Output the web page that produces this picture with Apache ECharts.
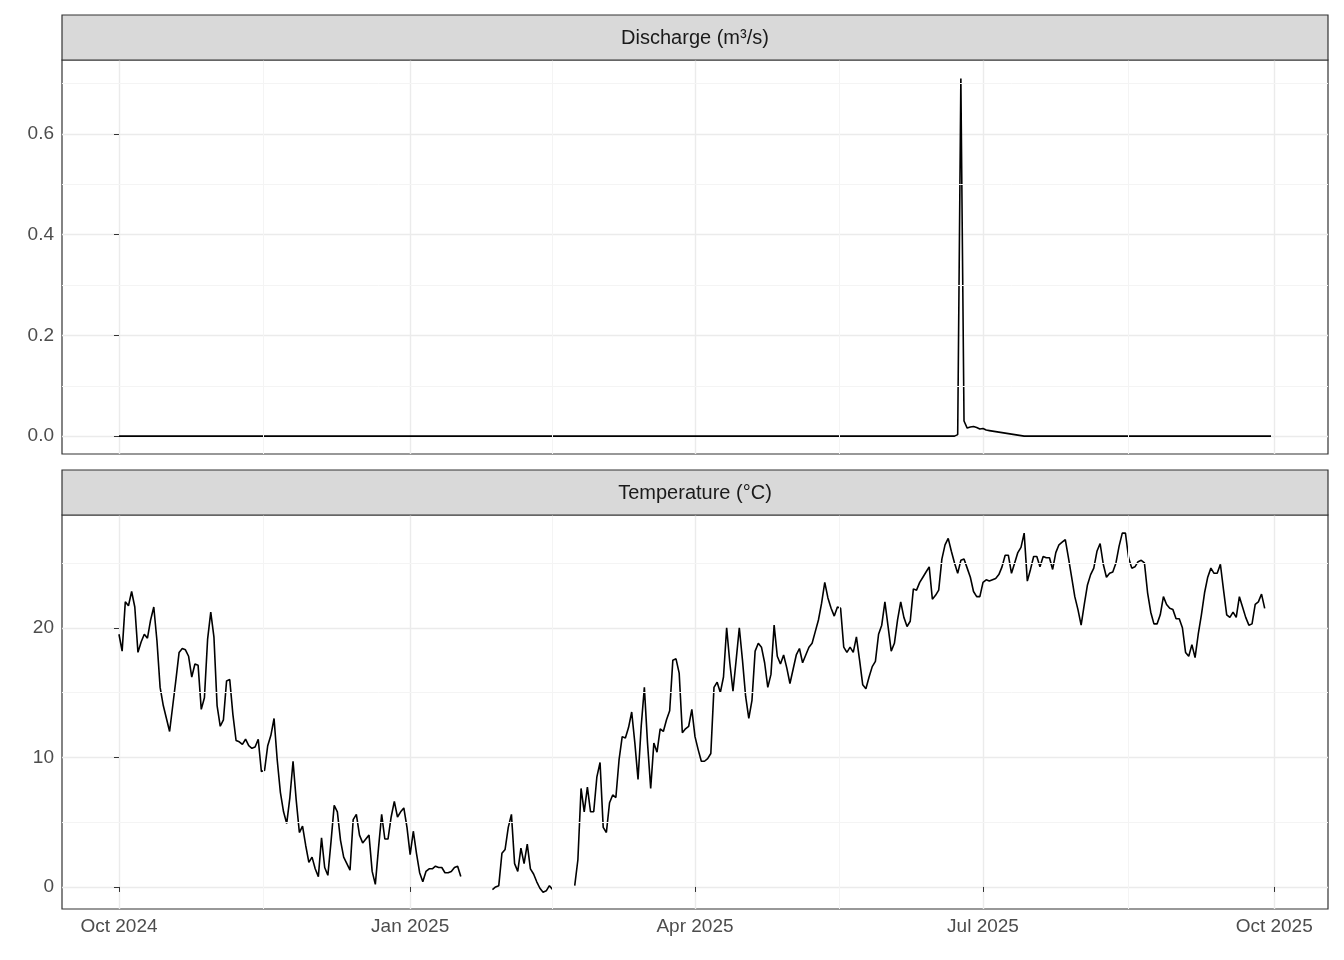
<!DOCTYPE html>
<html>
<head>
<meta charset="utf-8">
<script src="https://cdn.jsdelivr.net/npm/echarts@6/dist/echarts.min.js"></script>
<style>html,body{margin:0;padding:0;background:#fff}#main{width:1344px;height:960px}</style>
</head>
<body>
<div id="main"></div>
<script>
// days since 2024-10-01
const tickDays = [0, 92, 182, 273, 365]
const tickLabels = ['Oct 2024', 'Jan 2025', 'Apr 2025', 'Jul 2025', 'Oct 2025']
const minorDays = [45.5, 137, 227.5, 319]

// temperature, daily, null = missing
const tempSeg1 = [19.5,18.2,22,21.7,22.8,21.6,18.1,18.9,19.5,19.2,20.6,21.6,19,15.4,14,13,12,14,16,18.1,18.4,18.3,17.8,16.2,17.2,17.1,13.7,14.6,19.1,21.2,19.3,14,12.4,12.9,15.9,16,13.3,11.3,11.2,11,11.4,10.9,10.7,10.8,11.4,8.9,9.0,10.9,11.7,13.0,9.8,7.3,5.8,4.9,6.9,9.7,6.7,4.2,4.7,3.2,1.9,2.3,1.4,0.8,
  3.8,1.5,0.9,3.5,6.3,5.8,3.6,2.3,1.8,1.3,5.2,5.6,4.0,3.4,3.7,4.0,1.2,0.2,3.0,5.6,3.7,3.7,5.4,6.6,5.4,5.8,6.1,4.6,2.5,4.3,2.6,1.1,0.4,1.2,1.4,1.4,1.6,1.5,1.5,1.1,1.1,1.2,1.5,1.6,0.8]
const tempGap1 = 9
const tempSeg2 = [-0.2,0.0,0.1,2.6,2.9,4.6,5.6,1.8,1.2,3.0,1.8,3.3,1.4,1.0,0.4,-0.1,-0.4,-0.3,0.1,-0.2]
const tempGap2 = 6
const tempSeg3 = [0.1,2.1,7.6,5.8,7.7,5.8,5.8,8.5,9.6,4.6,4.2,6.5,7.1,6.9,9.8,11.6,11.5,12.3,13.5,11.1,8.3,12.4,15.4,11.1,7.6,11.1,10.4,12.2,12.0,12.9,13.6,17.5,17.6,16.5,11.9,12.2,12.4,13.7,11.6,10.6,9.7,9.7,9.9,10.3,15.4,15.8,15.0,16.2,20.0,17.3,15.1,17.5,20.0,17.5,14.7,13.0,14.4,18.2,18.8,18.5,17.3,15.4,16.4,20.2,17.8,17.2,17.9,16.9,15.7,16.8,
  17.9,18.4,17.3,17.9,18.5,18.8,19.7,20.6,21.9,23.5,22.3,21.5,20.9,21.6,21.5,18.5,18.1,18.5,18.1,19.3,17.5,15.6,15.3,16.2,17.0,17.4,19.5,20.2,22.0,20.1,18.2,18.8,20.6,22.0,20.8,20.1,20.5,23.0,22.9,23.5,23.9,24.3,24.7,22.2,22.5,22.9,25.3,26.4,26.9,25.9,25.0,24.2,25.2,25.3,24.6,23.9,22.8,22.4,22.4,23.5,23.7,23.6,23.7,23.8,24.1,24.7,25.6,25.6,24.2,25.0,25.8,26.2,27.3,
  23.6,24.5,25.5,25.5,24.7,25.5,25.4,25.4,24.5,25.8,26.4,26.6,26.8,25.4,23.9,22.4,21.4,20.2,21.8,23.3,24.1,24.6,25.9,26.5,24.9,23.9,24.2,24.3,25.0,26.3,27.3,27.3,25.4,24.6,24.7,25.1,25.2,25.0,22.7,21.2,20.3,20.3,21.0,22.4,21.8,21.5,21.4,20.7,20.7,20.0,18.1,17.8,18.7,17.7,19.5,21.0,22.7,23.9,24.6,24.2,24.2,24.9,22.9,21.0,20.8,21.2,20.8,22.4,21.6,20.8,20.2,20.3,21.8,22.0,22.6,21.5]

// discharge, daily: zero baseline then the event around day 265
const dischargeBefore = 265
const dischargeEvent = [0.003,0.71,0.03,0.016,0.018,0.019,0.017,0.014,0.015,0.012,0.011,0.01,0.009,0.008,0.007,0.006,0.005,0.004,0.003,0.002,0.001]
const dischargeAfter = 79

const tempValues = [].concat(tempSeg1, new Array(tempGap1).fill(null), tempSeg2, new Array(tempGap2).fill(null), tempSeg3)
const dischargeValues = [].concat(new Array(dischargeBefore).fill(0), dischargeEvent, new Array(dischargeAfter).fill(0))

const toPairs = arr => arr.map((v, i) => [i, v])

const textCol = '#4d4d4d'
const majorGrid = { show: true, lineStyle: { color: '#ebebeb', width: 1.4 } }
const minorLine = (xs, ys) => ({
  silent: true, symbol: 'none', animation: false,
  label: { show: false },
  lineStyle: { color: '#f4f4f4', width: 1, type: 'solid' },
  data: xs.map(x => ({ xAxis: x })).concat(ys.map(y => ({ yAxis: y })))
})

function xAxis(idx, showLabels) {
  return {
    type: 'value', gridIndex: idx, min: -18, max: 382,
    axisLine: { show: false },
    axisTick: { show: showLabels, length: 5, lineStyle: { color: '#333' }, customValues: tickDays },
    axisLabel: {
      show: showLabels, customValues: tickDays, color: textCol, fontSize: 19, margin: 8,
      fontFamily: 'Liberation Sans, Arial',
      formatter: v => tickLabels[tickDays.indexOf(Math.round(v))] || ''
    },
    splitLine: majorGrid
  }
}

function yAxis(idx, min, max, ticks, fmt) {
  return {
    type: 'value', gridIndex: idx, min: min, max: max,
    axisLine: { show: false },
    axisTick: { show: true, length: 5, lineStyle: { color: '#333' }, customValues: ticks },
    axisLabel: { customValues: ticks, color: textCol, fontSize: 19, margin: 8, fontFamily: 'Liberation Sans, Arial', formatter: fmt },
    splitLine: majorGrid
  }
}

function strip(top, text) {
  return [{
    type: 'rect', shape: { x: 62, y: top, width: 1266, height: 45 },
    style: { fill: '#d9d9d9', stroke: '#333', lineWidth: 1.2 }, z: 10
  }, {
    type: 'text', x: 695, y: top + 23,
    style: { text: text, fill: '#1a1a1a', font: '20px Liberation Sans, Arial', align: 'center', verticalAlign: 'middle' }, z: 11
  }]
}

const chart = echarts.init(document.getElementById('main'))
chart.setOption({
  animation: false,
  grid: [
    { left: 62, top: 60, width: 1266, height: 394, show: true, borderColor: '#333', borderWidth: 1.2, backgroundColor: '#fff' },
    { left: 62, top: 515, width: 1266, height: 394, show: true, borderColor: '#333', borderWidth: 1.2, backgroundColor: '#fff' }
  ],
  xAxis: [xAxis(0, false), xAxis(1, true)],
  yAxis: [
    yAxis(0, -0.0355, 0.747, [0, 0.2, 0.4, 0.6], v => v.toFixed(1)),
    yAxis(1, -1.7, 28.7, [0, 10, 20], v => String(Math.round(v)))
  ],
  graphic: strip(15, 'Discharge (m³/s)').concat(strip(470, 'Temperature (°C)')),
  series: [{
    type: 'line', xAxisIndex: 0, yAxisIndex: 0, data: toPairs(dischargeValues),
    showSymbol: false, lineStyle: { color: '#000', width: 1.6 },
    markLine: minorLine(minorDays, [0.1, 0.3, 0.5, 0.7])
  }, {
    type: 'line', xAxisIndex: 1, yAxisIndex: 1, data: toPairs(tempValues),
    showSymbol: false, connectNulls: false, lineStyle: { color: '#000', width: 1.6 },
    markLine: minorLine(minorDays, [5, 15, 25])
  }]
})
</script>
</body>
</html>
